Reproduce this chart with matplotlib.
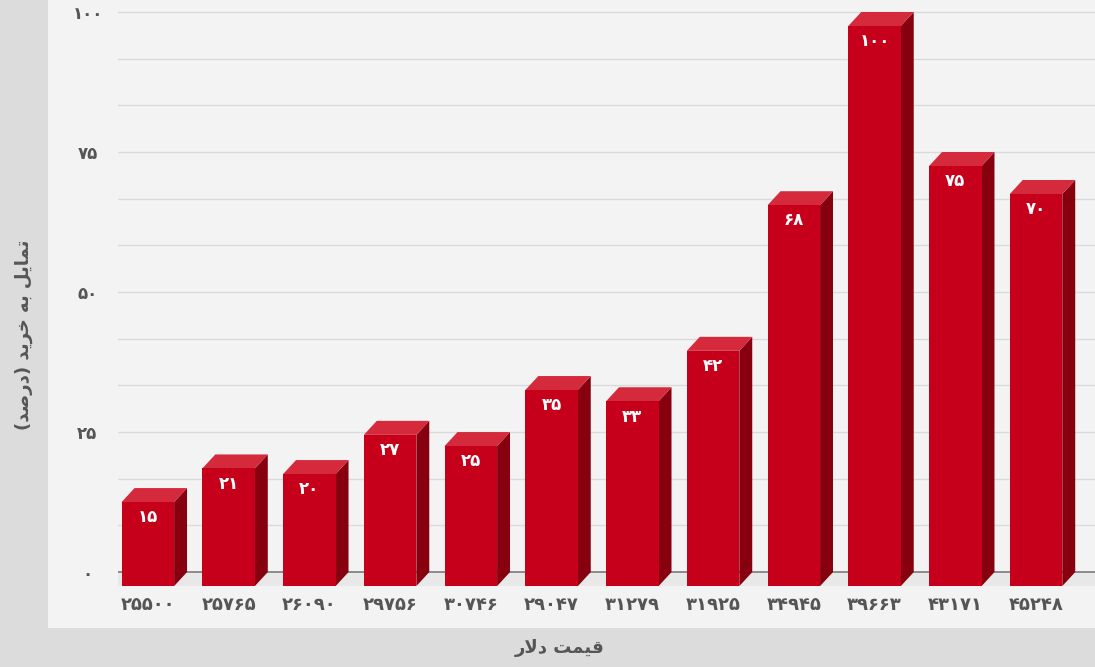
import matplotlib
matplotlib.use("Agg")
import matplotlib.pyplot as plt
from matplotlib.patches import Polygon, Rectangle

# Data
prices = ['25500', '25765', '26090', '29756', '30746', '29047',
          '31279', '31925', '34945', '39663', '43171', '45248']
interest = [15, 21, 20, 27, 25, 35, 33, 42, 68, 100, 75, 70]
y_ticks = [0, 25, 50, 75, 100]

# Persian titles, already in visual order with presentation forms
y_title = "(\uFEAA\uFEBB\uFEAD\uFEA9) \uFEAA\uFEF3\uFEAE\uFEA7 \uFEEA\uFE91 \uFEDE\uFEF3\uFE8E\uFEE4\uFE97"
x_title = "\uFEAD\uFEFB\uFEA9 \uFE96\uFEE4\uFEF4\uFED7"

FA = str.maketrans('0123456789', '۰۱۲۳۴۵۶۷۸۹')


def fa(s):
    return str(s).translate(FA)


# colours
FRONT = '#c6001b'
SIDE = '#86000f'
TOP = '#d42a3c'
PANEL = '#f3f3f3'
OUTER = '#dcdcdc'
TEXT = '#555555'

BAR_W = 0.65
DX = 0.16    # depth in x (data units)
DY = 2.5     # depth in y (data units)


def main():
    plt.rcParams['font.family'] = ['DejaVu Sans']
    fig = plt.figure(figsize=(10.95, 6.67), dpi=100, facecolor=OUTER)

    # light inner panel
    fig.patches.append(Rectangle((48 / 1095, 39 / 667), 1, 1,
                                 transform=fig.transFigure,
                                 facecolor=PANEL, edgecolor='none',
                                 zorder=-10))

    ax = fig.add_axes([118 / 1095, 77 / 667, 1 - 118 / 1095, 1 - 77 / 667])
    ax.set_facecolor('none')
    x = list(range(len(prices)))
    xl, xr = -0.37, 11.73
    ax.set_xlim(xl, xr)
    ax.set_ylim(-3.2, 102.14)

    # grid lines every 25/3
    for k in range(1, 13):
        ax.axhline(k * 25 / 3, color='#dadada', lw=1, zorder=1)
    # floor
    ax.add_patch(Polygon([(xl - DX, -DY), (xr, -DY), (xr, 0), (xl, 0)],
                         closed=True, facecolor='#e8e8e8',
                         edgecolor='none', zorder=1))
    ax.axhline(0, color='#7a7a7a', lw=1.2, zorder=2)

    # front faces
    ax.bar(x, interest, width=BAR_W, bottom=-DY, color=FRONT, zorder=4)
    for i, v in zip(x, interest):
        l, r = i - BAR_W / 2, i + BAR_W / 2
        ax.add_patch(Polygon([(r, -DY), (r, v - DY), (r + DX, v),
                              (r + DX, 0)], closed=True, facecolor=SIDE,
                             edgecolor='none', zorder=3))
        ax.add_patch(Polygon([(l, v - DY), (r, v - DY), (r + DX, v),
                              (l + DX, v)], closed=True, facecolor=TOP,
                             edgecolor='none', zorder=3))
        ax.annotate(fa(v), xy=(i, v - DY), xytext=(0, -11),
                    textcoords='offset points', ha='center', va='center',
                    color='white', fontsize=12, fontweight='bold', zorder=5)

    ax.set_xticks(x)
    ax.set_xticklabels([fa(p) for p in prices], fontsize=13,
                       fontweight='bold', color=TEXT)
    ax.set_yticks(y_ticks)
    ax.set_yticklabels([fa(t) for t in y_ticks], fontsize=12,
                       fontweight='bold', color=TEXT, ha='center')
    ax.tick_params(axis='both', length=0)
    ax.tick_params(axis='x', pad=4)
    ax.tick_params(axis='y', pad=22)
    for s in ax.spines.values():
        s.set_visible(False)

    fig.text(24 / 1095, 1 - 335 / 667, y_title, rotation=90, ha='center',
             va='center', fontsize=13, fontweight='bold', color=TEXT)
    fig.text(560 / 1095, 1 - 648 / 667, x_title, ha='center', va='center',
             fontsize=13, fontweight='bold', color=TEXT)

    fig.savefig('out.png', dpi=100, facecolor=OUTER)


if __name__ == "__main__":
    main()
